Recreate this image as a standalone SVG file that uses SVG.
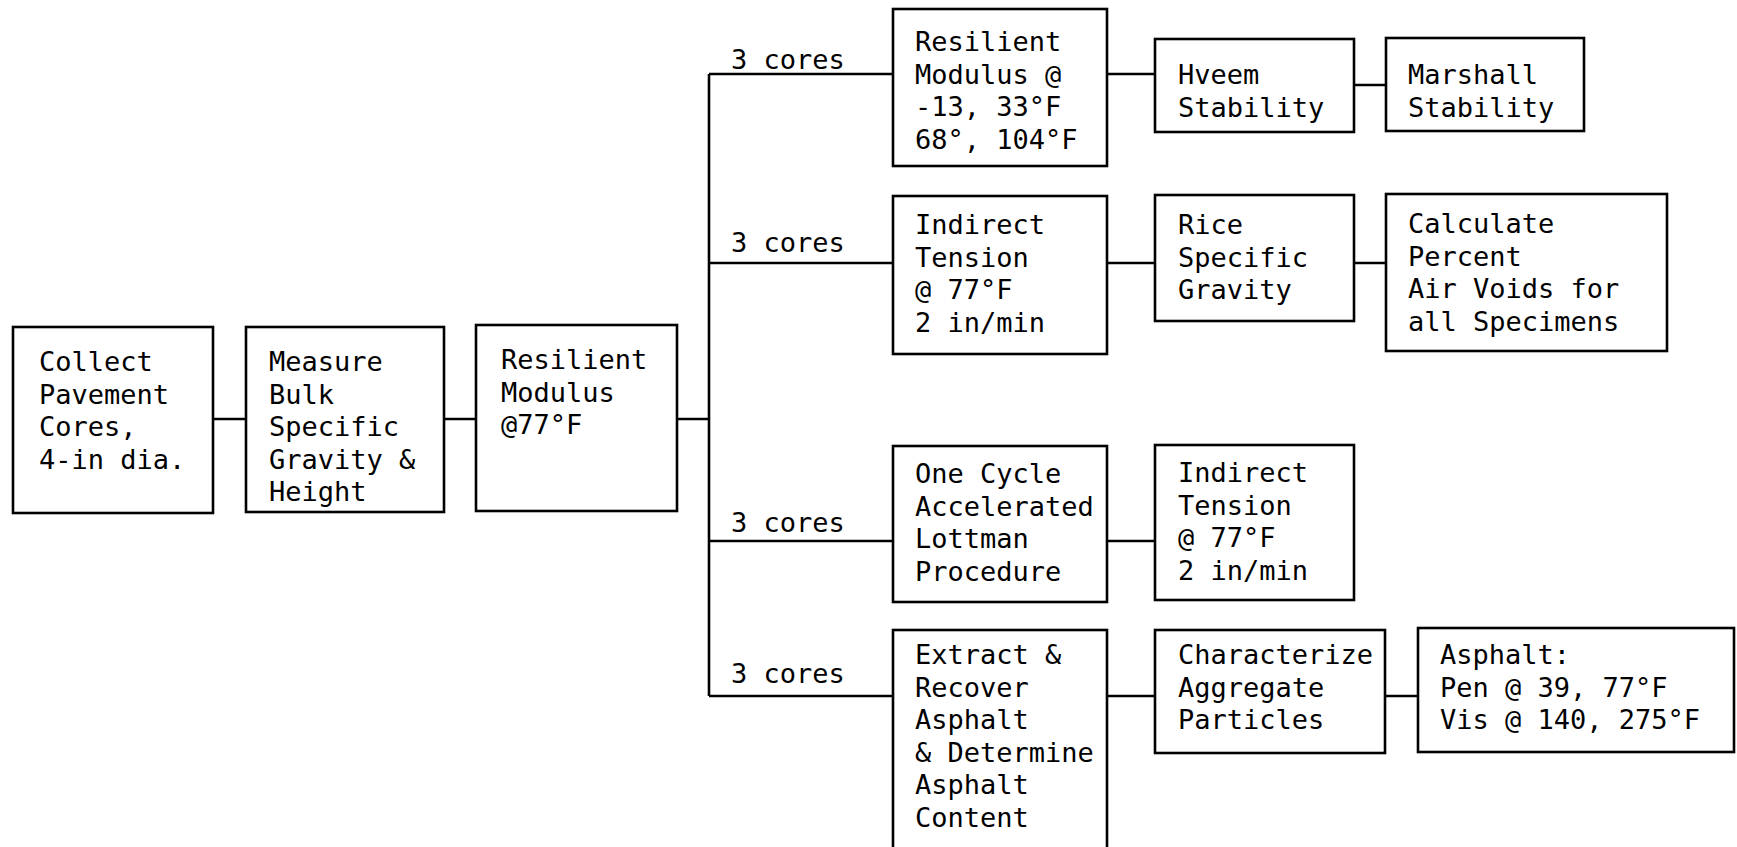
<svg xmlns="http://www.w3.org/2000/svg" width="1737" height="847" viewBox="0 0 1737 847">
<style>
.box{fill:#fff;stroke:#000;stroke-width:2.6}
.ln{fill:none;stroke:#000;stroke-width:2.6}
text{font-family:"DejaVu Sans Mono","Liberation Mono",monospace;font-size:27px;fill:#000}
</style>
<rect x="0" y="0" width="1737" height="847" fill="#fff"/>
<g id="connectors">
<path class="ln" d="M213 419H246M444 419H476M677 419H709M709 74V696M709 74H893M709 263H893M709 541H893M709 696H893"/>
<path class="ln" d="M1107 74H1155M1354 85H1386M1107 263H1155M1354 263H1386M1107 541H1155M1107 696H1155M1385 696H1418"/>
<text x="731" y="69">3 cores</text>
<text x="731" y="252">3 cores</text>
<text x="731" y="532">3 cores</text>
<text x="731" y="683">3 cores</text>
</g>
<g id="n1"><rect class="box" x="13" y="327" width="200" height="186"/>
<text x="39" y="371">Collect</text><text x="39" y="403.5">Pavement</text><text x="39" y="436">Cores,</text><text x="39" y="468.5">4-in dia.</text></g>
<g id="n2"><rect class="box" x="246" y="327" width="198" height="185"/>
<text x="269" y="371">Measure</text><text x="269" y="403.5">Bulk</text><text x="269" y="436">Specific</text><text x="269" y="468.5">Gravity &amp;</text><text x="269" y="501">Height</text></g>
<g id="n3"><rect class="box" x="476" y="325" width="201" height="186"/>
<text x="501" y="369">Resilient</text><text x="501" y="401.5">Modulus</text><text x="501" y="434">@77°F</text></g>
<g id="n4"><rect class="box" x="893" y="9" width="214" height="157"/>
<text x="915" y="51">Resilient</text><text x="915" y="83.5">Modulus @</text><text x="915" y="116">-13, 33°F</text><text x="915" y="148.5">68°, 104°F</text></g>
<g id="n5"><rect class="box" x="1155" y="39" width="199" height="93"/>
<text x="1178" y="84">Hveem</text><text x="1178" y="116.5">Stability</text></g>
<g id="n6"><rect class="box" x="1386" y="38" width="198" height="93"/>
<text x="1408" y="84">Marshall</text><text x="1408" y="116.5">Stability</text></g>
<g id="n7"><rect class="box" x="893" y="196" width="214" height="158"/>
<text x="915" y="234">Indirect</text><text x="915" y="266.5">Tension</text><text x="915" y="299">@ 77°F</text><text x="915" y="331.5">2 in/min</text></g>
<g id="n8"><rect class="box" x="1155" y="195" width="199" height="126"/>
<text x="1178" y="234">Rice</text><text x="1178" y="266.5">Specific</text><text x="1178" y="299">Gravity</text></g>
<g id="n9"><rect class="box" x="1386" y="194" width="281" height="157"/>
<text x="1408" y="233">Calculate</text><text x="1408" y="265.5">Percent</text><text x="1408" y="298">Air Voids for</text><text x="1408" y="330.5">all Specimens</text></g>
<g id="n10"><rect class="box" x="893" y="446" width="214" height="156"/>
<text x="915" y="483">One Cycle</text><text x="915" y="515.5">Accelerated</text><text x="915" y="548">Lottman</text><text x="915" y="580.5">Procedure</text></g>
<g id="n11"><rect class="box" x="1155" y="445" width="199" height="155"/>
<text x="1178" y="482">Indirect</text><text x="1178" y="514.5">Tension</text><text x="1178" y="547">@ 77°F</text><text x="1178" y="579.5">2 in/min</text></g>
<g id="n12"><rect class="box" x="893" y="630" width="214" height="240"/>
<text x="915" y="664">Extract &amp;</text><text x="915" y="696.5">Recover</text><text x="915" y="729">Asphalt</text><text x="915" y="761.5">&amp; Determine</text><text x="915" y="794">Asphalt</text><text x="915" y="827">Content</text></g>
<g id="n13"><rect class="box" x="1155" y="630" width="230" height="123"/>
<text x="1178" y="664">Characterize</text><text x="1178" y="696.5">Aggregate</text><text x="1178" y="729">Particles</text></g>
<g id="n14"><rect class="box" x="1418" y="628" width="316" height="124"/>
<text x="1440" y="664">Asphalt:</text><text x="1440" y="696.5">Pen @ 39, 77°F</text><text x="1440" y="729">Vis @ 140, 275°F</text></g>
</svg>
